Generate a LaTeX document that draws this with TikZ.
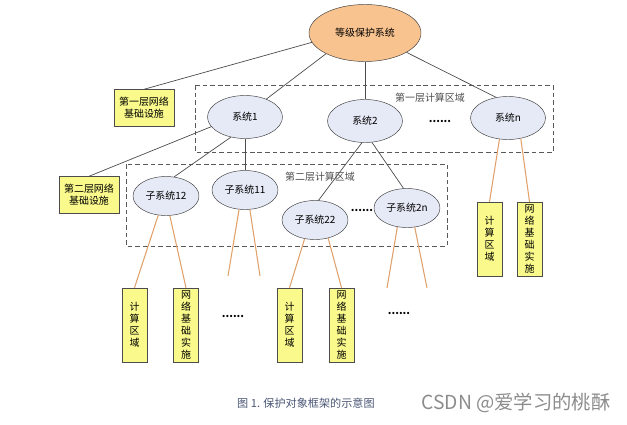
\documentclass[tikz,border=0pt]{standalone}
\usepackage{fontspec}
\setmainfont{Noto Sans CJK SC}
\usetikzlibrary{shapes.geometric}
\definecolor{peach}{HTML}{F8C38E}
\definecolor{paleblue}{HTML}{E6EAF6}
\definecolor{paleyellow}{HTML}{FAFA8C}
\definecolor{wire}{HTML}{E0A06A}
\definecolor{capblue}{HTML}{4A5675}

\begin{document}
\begin{tikzpicture}[x=0.03cm,y=-0.03cm,
    font=\fontsize{8.5}{10.2}\selectfont,
    root/.style={ellipse,draw=black!75,fill=peach,minimum width=3.36cm,minimum height=1.71cm,inner sep=0pt},
    sys/.style={ellipse,draw=black!75,fill=paleblue,minimum width=2.25cm,minimum height=1.29cm,inner sep=0pt},
    subsys/.style={ellipse,draw=black!75,fill=paleblue,minimum width=1.98cm,minimum height=1.17cm,inner sep=0pt},
    infra/.style={draw=black!70,fill=paleyellow,minimum width=1.8cm,minimum height=1.11cm,inner sep=1pt,align=center},
    leaf/.style={draw=black!70,fill=paleyellow,minimum width=0.75cm,minimum height=2.22cm,inner sep=1pt,align=center},
    zone/.style={draw=black!65,dash pattern=on 4pt off 2.5pt,line width=0.7pt},
    link/.style={draw=black!70,line width=0.6pt},
    wirelink/.style={draw=wire,line width=0.9pt},
    dots/.style={font=\bfseries\fontsize{9}{10}\selectfont}]
  \useasboundingbox (0,0) rectangle (627,424);

  \draw[zone] (195,85) rectangle (553,152);
  \draw[zone] (126,164) rectangle (447,246);
  \node[text=black!70] (zone1) at (430,98) {第一层计算区域};
  \node[text=black!70] (zone2) at (320,177) {第二层计算区域};

  % top levels
  \node[root] (top) at (365,33) {等级保护系统};
  \node[infra] (net1) at (144,108) {第一层网络\\基础设施};
  \node[sys] (sys1) at (245,117) {系统1};
  \node[sys] (sys2) at (365,121) {系统2};
  \node[dots] (dots1) at (440,121) {......};
  \node[sys] (sysn) at (508,118) {系统n};
  \node[infra] (net2) at (89,195) {第二层网络\\基础设施};

  \node[subsys] (sub12) at (166,196) {子系统12};
  \node[subsys] (sub11) at (245,190) {子系统11};
  \node[subsys] (sub22) at (315,220) {子系统22};
  \node[dots] (dots2) at (362,210) {......};
  \node[subsys] (sub2n) at (407,208) {子系统2n};

  \draw[link] (top.190) -- (net1.north);
  \draw[link] (top.208) -- (sys1.40);
  \draw[link] (top) -- (sys2);
  \draw[link] (top.335) -- (sysn.120);
  \draw[link] (sys1.196) -- (net2.north);
  \draw[link] (sys1.235) -- (sub12.67);
  \draw[link] (sys1) -- (sub11);
  \draw[link] (sys2.262) -- (sub22.80);
  \draw[link] (sys2.288) -- (sub2n.100);

  % leaves
  \node[leaf] (calc12) at (134.5,325) {计\\算\\区\\域};
  \node[leaf] (inf12) at (186,325) {网\\络\\基\\础\\实\\施};
  \node[leaf] (calc22) at (289.5,325) {计\\算\\区\\域};
  \node[leaf] (inf22) at (341.5,325) {网\\络\\基\\础\\实\\施};
  \node[leaf] (calcn) at (489.5,239) {计\\算\\区\\域};
  \node[leaf] (infn) at (529.5,239) {网\\络\\基\\础\\实\\施};
  \node[dots] (dots3) at (233,316) {......};
  \node[dots] (dots4) at (399,313) {......};
  \coordinate (end11a) at (228,276);
  \coordinate (end11b) at (260,276);
  \coordinate (end2na) at (387,288);
  \coordinate (end2nb) at (427,288);

  \draw[wirelink] (sub12.248) -- (calc12.north);
  \draw[wirelink] (sub12.281) -- (inf12.north);
  \draw[wirelink] (sub11.253) -- (end11a);
  \draw[wirelink] (sub11.284) -- (end11b);
  \draw[wirelink] (sub22.241) -- (calc22.north);
  \draw[wirelink] (sub22.306) -- (inf22.north);
  \draw[wirelink] (sub2n.243) -- (end2na);
  \draw[wirelink] (sub2n.292) -- (end2nb);
  \draw[wirelink] (sysn.248) -- (calcn.north);
  \draw[wirelink] (sysn.302) -- (infn.north);

  \node[text=capblue,font=\fontsize{9.5}{11}\selectfont] (caption) at (306,403) {图 1. 保护对象框架的示意图};
  \node[text=black!45,font=\fontsize{16.5}{19}\selectfont] (mark) at (516,403) {CSDN @爱学习的桃酥};
\end{tikzpicture}
\end{document}
